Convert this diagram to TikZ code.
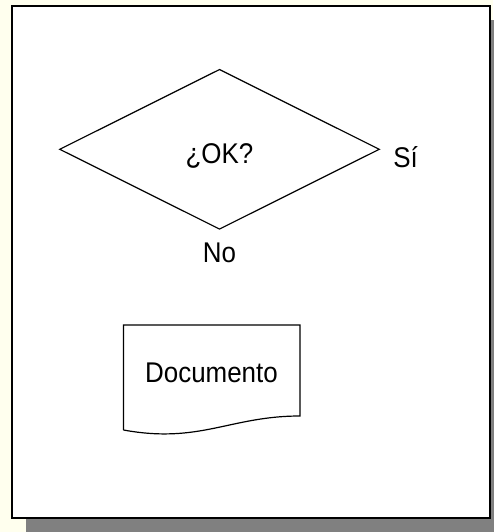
\documentclass[tikz,border=0pt]{standalone}
\usepackage{fontspec}
\setmainfont[FakeStretch=0.91]{Liberation Sans}
\usetikzlibrary{shapes.geometric, positioning}

\definecolor{fondo}{RGB}{255,255,238}
\definecolor{sombra}{RGB}{128,128,128}

\begin{document}
\begin{tikzpicture}[x=1pt, y=-1pt, font=\fontsize{28.5}{34}\selectfont,
    decision/.style={diamond, draw, line width=1.2pt, minimum width=320pt,
      minimum height=160pt, inner sep=0pt, text height=28pt, text depth=0pt},
    etiqueta/.style={inner sep=0pt}]
  % Fondo de la hoja
  \fill[fondo] (0,0) rectangle (493,532);
  \useasboundingbox (0,0) rectangle (493,532);

  % Sombra y marco
  \fill[sombra] (26,20) rectangle (504,532);
  \draw[line width=2.5pt, fill=white] (12,6) rectangle (490,518);

  % Rombo de decision
  \node[decision] (ok) at (219.5,149.3) {¿OK?};

  % Salidas
  \node[etiqueta, right=13pt of ok.east, yshift=-8pt] (si) {Sí};
  \node[etiqueta, below=13pt of ok.south] (no) {No};

  % Documento
  \coordinate (docNO) at (123.5,325);
  \coordinate (docNE) at (300,325);
  \coordinate (docSE) at (300,416);
  \coordinate (docSO) at (123.5,430);
  \draw[line width=1.2pt] (docSO) -- (docNO) -- (docNE) -- (docSE)
    .. controls (230,416) and (200,444) .. (docSO);
  \node[etiqueta] (doc) at (211.5,373) {Documento};

\end{tikzpicture}
\end{document}
